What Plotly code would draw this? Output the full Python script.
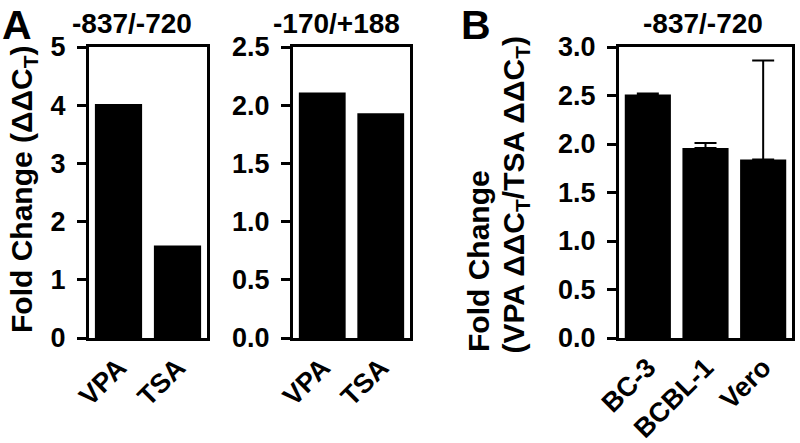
import plotly.graph_objects as go

# panel A, -837/-720
cats_a = ["VPA", "TSA"]
vals_a1 = [4.02, 1.59]
# panel A, -170/+188
vals_a2 = [2.11, 1.93]
# panel B, -837/-720
cells_b = ["BC-3", "BCBL-1", "Vero"]
vals_b = [2.51, 1.96, 1.84]
err_b = [0.01, 0.05, 1.02]

W, H = 800, 443
FONT = "Liberation Sans, Arial, sans-serif"


def px_x(a, b):
    return [a / W, b / W]


ydom = [1 - 338 / H, 1 - 47 / H]

fig = go.Figure()
fig.add_trace(go.Bar(x=cats_a, y=vals_a1, marker_color="black", marker_line_width=0,
                     xaxis="x", yaxis="y"))
fig.add_trace(go.Bar(x=cats_a, y=vals_a2, marker_color="black", marker_line_width=0,
                     xaxis="x2", yaxis="y2"))
fig.add_trace(go.Bar(x=cells_b, y=vals_b, marker_color="black", marker_line_width=0,
                     error_y=dict(type="data", array=err_b, symmetric=False, arrayminus=[0, 0, 0],
                                  color="black", thickness=2, width=11),
                     xaxis="x3", yaxis="y3"))

tickfont = dict(family=FONT, size=27, color="black", weight="bold")
xcommon = dict(showline=True, linecolor="black", linewidth=3, mirror=True, ticks="",
               tickangle=-45, tickfont=tickfont, showgrid=False, zeroline=False,
               automargin=False)
ycommon = dict(showline=True, linecolor="black", linewidth=3, mirror=True, ticks="outside",
               ticklen=9, tickwidth=3, tickcolor="black", tickfont=tickfont,
               ticklabelstandoff=6, showgrid=False, zeroline=False, domain=ydom,
               automargin=False)

fig.update_layout(
    width=W, height=H, margin=dict(l=0, r=0, t=0, b=0, autoexpand=False),
    plot_bgcolor="white", paper_bgcolor="white", showlegend=False,
    bargap=0.2,
    xaxis=dict(xcommon, domain=px_x(89, 207), anchor="y", range=[-0.5, 1.5]),
    yaxis=dict(ycommon, anchor="x", range=[0, 5], tickvals=[0, 1, 2, 3, 4, 5]),
    xaxis2=dict(xcommon, domain=px_x(293, 410), anchor="y2", range=[-0.5, 1.5]),
    yaxis2=dict(ycommon, anchor="x2", range=[0, 2.5], tickvals=[0, 0.5, 1, 1.5, 2, 2.5],
                tickformat=".1f"),
    xaxis3=dict(xcommon, domain=px_x(619, 792), anchor="y3", range=[-0.5, 2.5]),
    yaxis3=dict(ycommon, anchor="x3", range=[0, 3], tickvals=[0, 0.5, 1, 1.5, 2, 2.5, 3],
                tickformat=".1f"),
)

title_font = dict(family=FONT, size=28, color="black", weight="bold")
ytitle_font = dict(family=FONT, size=30, color="black", weight="bold")
letter_font = dict(family=FONT, size=41, color="black", weight="bold")
anns = [
    dict(text="A", x=17 / W, y=1, yanchor="top", font=letter_font),
    dict(text="B", x=476 / W, y=1, yanchor="top", font=letter_font),
    dict(text="-837/-720", x=132 / W, y=1 - 23 / H, font=title_font),
    dict(text="-170/+188", x=336 / W, y=1 - 23 / H, font=title_font),
    dict(text="-837/-720", x=703 / W, y=1 - 23 / H, font=title_font),
    dict(text="Fold Change (ΔΔC<sub>T</sub>)", x=23 / W, y=1 - 189 / H, textangle=-90,
         font=ytitle_font),
    dict(text="Fold Change", x=478 / W, y=1 - 354 / H, yanchor="bottom", textangle=-90,
         font=ytitle_font),
    dict(text="(VPA ΔΔC<sub>T</sub>/TSA ΔΔC<sub>T</sub>)", x=515 / W, y=1 - 356 / H,
         yanchor="bottom", textangle=-90, font=ytitle_font),
]
for a in anns:
    a.setdefault("yanchor", "middle")
    a.update(xref="paper", yref="paper", xanchor="center", showarrow=False)
fig.update_layout(annotations=anns)

fig.write_html("out.html", config={"displayModeBar": False},
               post_script="document.body.style.margin='0';")
